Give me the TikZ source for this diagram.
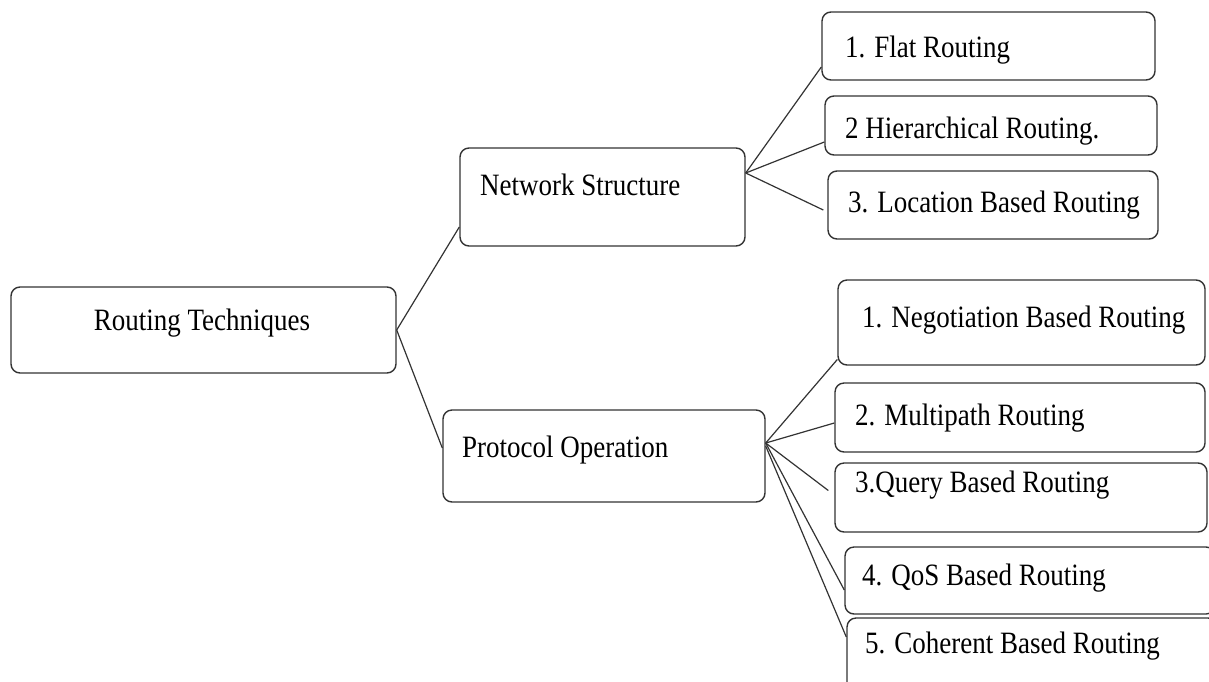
\documentclass[tikz,border=0pt]{standalone}
\usepackage{fontspec}
\setmainfont{Liberation Serif}
\usetikzlibrary{calc}
\tikzset{
  box/.style={draw=black!80, line width=1.4pt, rounded corners=9pt, fill=white, inner sep=0pt},
  txt/.style={anchor=base west, inner sep=0pt, font=\fontsize{27}{31}\selectfont},
  conn/.style={draw=black!80, line width=1.2pt}
}
\newcommand{\tx}[1]{\scalebox{1}[1.15]{#1}}
\begin{document}
\begin{tikzpicture}[x=1pt,y=-1pt]
\useasboundingbox (0,0) rectangle (1209,681);
\clip (0,0) rectangle (1209,681);
\fill[white] (0,0) rectangle (1209,681);
% boxes
\node[box, minimum width=385pt, minimum height=86pt] (rt) at (203.5,330) {};
\node[box, minimum width=285pt, minimum height=98pt] (ns) at (602.5,197) {};
\node[box, minimum width=322pt, minimum height=92pt] (po) at (604,456) {};
\node[box, minimum width=333pt, minimum height=68pt] (f1) at (988.5,46) {};
\node[box, minimum width=332pt, minimum height=59pt] (f2) at (991,125.5) {};
\node[box, minimum width=330pt, minimum height=68pt] (f3) at (993,205) {};
\node[box, minimum width=367pt, minimum height=85pt] (p1) at (1021.5,322.5) {};
\node[box, minimum width=370pt, minimum height=69pt] (p2) at (1020,417.5) {};
\node[box, minimum width=372pt, minimum height=69pt] (p3) at (1021,497.5) {};
\node[box, minimum width=370pt, minimum height=67pt] (p4) at (1030,580.5) {};
\node[box, minimum width=370pt, minimum height=82pt] (p5) at (1032,659) {};
% texts
\node[txt, anchor=base] (trt) at (202,330) {\tx{Routing Techniques}};
\node[txt] (tns) at (480,195) {\tx{Network Structure}};
\node[txt] (tpo) at (462,457) {\tx{Protocol Operation}};
\node[txt] (tf1) at (845,57) {\tx{1. Flat Routing}};
\node[txt] (tf2) at (845,138) {\tx{2 Hierarchical Routing.}};
\node[txt] (tf3) at (848,212) {\tx{3. Location Based Routing}};
\node[txt] (tp1) at (862,327) {\tx{1. Negotiation Based Routing}};
\node[txt] (tp2) at (855,425) {\tx{2. Multipath Routing}};
\node[txt] (tp3) at (855,492) {\tx{3.Query Based Routing}};
\node[txt] (tp4) at (862,585) {\tx{4. QoS Based Routing}};
\node[txt] (tp5) at (865,653) {\tx{5. Coherent Based Routing}};
% connectors
\draw[conn] (rt.east) -- ($(ns.west)+(0,30)$);
\draw[conn] (rt.east) -- ($(po.west)+(0,-8)$);
\coordinate (nsr) at ($(ns.east)+(0,-24)$);
\draw[conn] (nsr) -- ($(f1.west)+(0,21)$);
\draw[conn] (nsr) -- ($(f2.west)+(0,16.5)$);
\draw[conn] (nsr) -- ($(f3.west)+(-4,5)$);
\coordinate (por) at ($(po.east)+(0,-13)$);
\draw[conn] (por) -- ($(p1.west)+(0,37)$);
\draw[conn] (por) -- ($(p2.west)+(0,5.5)$);
\draw[conn] (por) -- ($(p3.west)+(-6,-7)$);
\draw[conn] (por) -- ($(p4.west)+(0,9.5)$);
\draw[conn] ($(por)+(0,3)$) -- ($(p5.west)+(0,-22)$);
\end{tikzpicture}
\end{document}
